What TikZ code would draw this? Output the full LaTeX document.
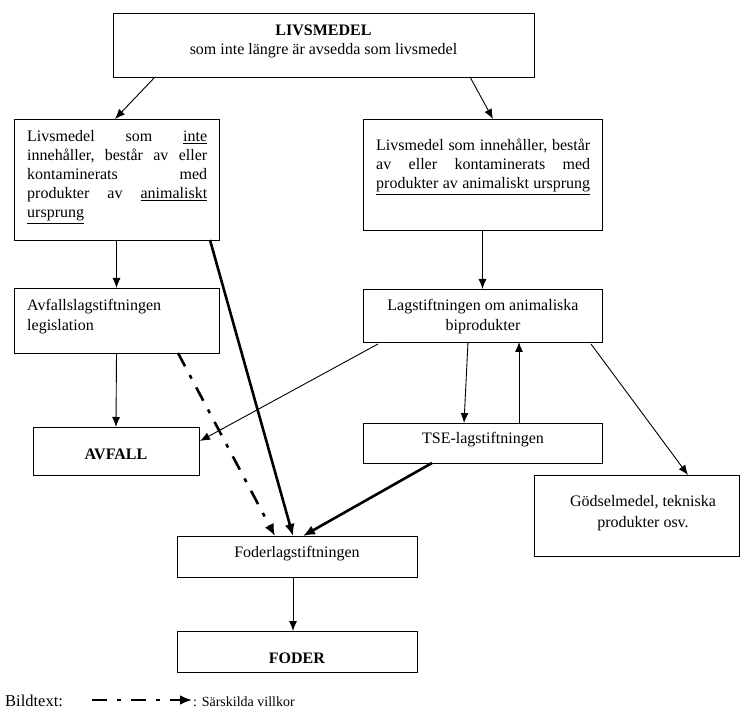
\documentclass[tikz,border=0pt]{standalone}
\usepackage{fontspec}
\setmainfont{Liberation Serif}
\usetikzlibrary{arrows.meta,calc}
\newcommand{\ctwo}[4]{\vtop{\baselineskip=#1\hbox to #2{\hss #3\hss}\hbox to #2{\hss #4\hss}}}
\begin{document}
\begin{tikzpicture}[x=1pt,y=-1pt,
  box/.style={draw, line width=0.9pt, inner sep=0pt, outer sep=0pt, anchor=north west},
  txt/.style={inner sep=0pt, font=\fontsize{16}{19}\selectfont},
  arr/.style={line width=0.9pt, -{Latex[length=10pt,width=8pt]}},
  thickarr/.style={line width=2.6pt, -{Latex[length=12pt,width=10pt]}},
  condarr/.style={line width=2.6pt, dash pattern=on 15pt off 10pt on 4pt off 10pt, -{Latex[length=12pt,width=10pt]}}]
\useasboundingbox (0,0) rectangle (740,711);

% boxes
\node[box, minimum width=421pt, minimum height=64pt] (top) at (113,13) {};
\node[box, minimum width=205pt, minimum height=121pt] (l1) at (14,119) {};
\node[box, minimum width=239pt, minimum height=111pt] (r1) at (363,119) {};
\node[box, minimum width=205pt, minimum height=65pt] (avf) at (14,288) {};
\node[box, minimum width=239pt, minimum height=53pt] (lag) at (363,289) {};
\node[box, minimum width=166pt, minimum height=48pt] (avfall) at (33,427) {};
\node[box, minimum width=239pt, minimum height=40pt] (tse) at (363,423) {};
\node[box, minimum width=205.5pt, minimum height=81pt] (gods) at (534,475) {};
\node[box, minimum width=240pt, minimum height=41pt] (foder) at (177,536) {};
\node[box, minimum width=240pt, minimum height=41pt] (fodr) at (177,631) {};

% texts
\node[txt, anchor=base] (topt) at (323.5,36) {\ctwo{19pt}{400pt}{\textbf{LIVSMEDEL}}{som inte längre är avsedda som livsmedel}};
\node[txt, anchor=base west] (l1t) at (27,142) {\vtop{\hsize=180pt\baselineskip=19pt
  \hbox to\hsize{Livsmedel\hfill som\hfill \underline{inte}}
  \hbox to\hsize{innehåller,\hfill består\hfill av\hfill eller}
  \hbox to\hsize{kontaminerats\hfill med}
  \hbox to\hsize{produkter\hfill av\hfill \underline{animaliskt}}
  \hbox to\hsize{\underline{ursprung}\hfill}}};
\node[txt, anchor=base west] (r1t) at (376,151) {\vtop{\hsize=214pt\baselineskip=19pt
  \hbox to\hsize{Livsmedel\hfill som\hfill innehåller,\hfill består}
  \hbox to\hsize{av\hfill eller\hfill kontaminerats\hfill med}
  \hbox to\hsize{\underline{\hbox to\hsize{produkter\hfill av\hfill animaliskt\hfill ursprung}}}}};
\node[txt, anchor=base west] (avft) at (27,311) {\vtop{\hsize=180pt\baselineskip=19.5pt
  \hbox{Avfallslagstiftningen}
  \hbox{legislation}}};
\node[txt, anchor=base] (lagt) at (483,311) {\ctwo{19.5pt}{220pt}{Lagstiftningen om animaliska}{biprodukter}};
\node[txt, anchor=base] (avfallt) at (116,460) {\textbf{AVFALL}};
\node[txt, anchor=base] (tset) at (483,444) {TSE-lagstiftningen};
\node[txt, anchor=base] (godst) at (643,507) {\ctwo{21pt}{190pt}{Gödselmedel, tekniska}{produkter osv.}};
\node[txt, anchor=base] (fodert) at (297,558) {Foderlagstiftningen};
\node[txt, anchor=base] (fodrt) at (297,663) {\textbf{FODER}};

% connectors
\draw[arr] ($(top.south west)+(42,0)$) -- ($(l1.north west)+(101,0)$);
\draw[arr] ($(top.south west)+(357,0)$) -- ($(r1.north west)+(130,0)$);
\draw[arr] (l1.south) -- (avf.north);
\draw[arr] (r1.south) -- (lag.north);
\draw[arr] (avf.south) -- (avfall.north);
\draw[arr] ($(lag.south west)+(15,2)$) -- ($(avfall.north east)+(1,14)$);
\draw[arr] ($(lag.south west)+(105,0)$) -- ($(tse.north west)+(101,0)$);
\draw[arr] ($(tse.north west)+(156,0)$) -- ($(lag.south west)+(156,0)$);
\draw[arr] ($(lag.south east)+(-11,2)$) -- ($(gods.north west)+(154,0)$);
\draw[thickarr] ($(l1.south east)+(-9,0)$) -- ($(foder.north west)+(116,0)$);
\draw[condarr] ($(avf.south west)+(164,0)$) -- ($(foder.north west)+(98,0)$);
\draw[thickarr] ($(tse.south west)+(69,0)$) -- ($(foder.north west)+(126,0)$);
\draw[arr] ($(foder.south west)+(116,0)$) -- ($(fodr.north west)+(116,0)$);

% legend
\node[inner sep=0pt, anchor=base west, font=\fontsize{16.5}{19}\selectfont] (bild) at (5,706) {Bildtext:};
\coordinate (lg1) at (92,700);
\coordinate (lg2) at (192,700);
\draw[condarr] (lg1) -- (lg2);
\node[inner sep=0pt, anchor=base west, font=\fontsize{14}{17}\selectfont] (legt) at (193,706) {: Särskilda villkor};
\end{tikzpicture}
\end{document}
